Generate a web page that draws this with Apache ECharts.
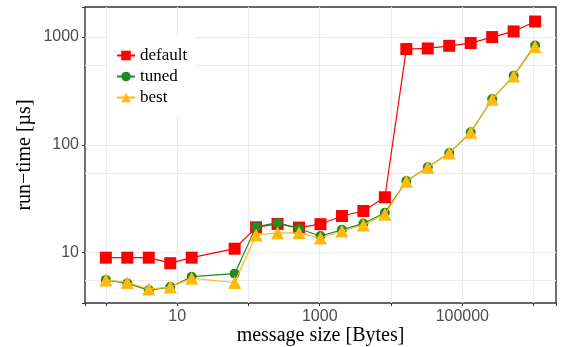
<!DOCTYPE html>
<html>
<head>
<meta charset="utf-8">
<script src="https://cdn.jsdelivr.net/npm/echarts@6/dist/echarts.min.js"></script>
<style>
  html, body { margin: 0; padding: 0; background: #fff; }
  #chart { width: 566px; height: 347px; }
</style>
</head>
<body>
<div id="chart"></div>
<script>
// message sizes (bytes), 32 is missing in the measurement
const sizes = [1, 2, 4, 8, 16, 64, 128, 256, 512, 1024, 2048, 4096, 8192,
  16384, 32768, 65536, 131072, 262144, 524288, 1048576]

// run-time in microseconds
const defaultTimes = [9.0, 9.0, 9.0, 8.0, 9.0, 10.9, 17.2, 18.5, 17.1, 18.4, 21.9, 24.4, 32.7,
  774, 784, 830, 880, 1000, 1128, 1395]
const tunedTimes = [5.6, 5.2, 4.5, 4.8, 6.0, 6.4, 17.4, 19.0, 16.7, 14.3, 16.3, 18.7, 23.5,
  46.3, 62, 84, 131, 266, 437, 836]
const bestTimes = [5.6, 5.3, 4.6, 4.8, 5.8, 5.3, 14.6, 15.3, 15.3, 13.7, 15.9, 18.1, 22.7,
  46, 62, 84, 131, 265, 435, 818]

const seriesNames = ['default', 'tuned', 'best']

const pairs = (ys) => sizes.map((s, i) => [s, ys[i]])

const isPow = (v) => {
  const l = Math.log10(v)
  return Math.abs(l - Math.round(l)) < 1e-6 ? Math.round(l) : null
}

const chart = echarts.init(document.getElementById('chart'))

const tickLabel = {
  color: '#4d4d4d',
  fontSize: 16,
  fontFamily: 'Liberation Sans'
}
const titleFont = {
  color: '#000',
  fontSize: 20,
  fontFamily: 'Liberation Serif'
}
const gridLine = {
  show: true, showMinLine: false, showMaxLine: false,
  lineStyle: { color: '#ebebeb', width: 1.2 }
}

const option = {
  animation: false,
  backgroundColor: '#fff',
  grid: {
    left: 85, right: 10, top: 7, bottom: 44,
    outerBoundsMode: 'none',
    containLabel: false,
    show: true, borderColor: '#333', borderWidth: 1.4, backgroundColor: 'transparent'
  },
  legend: {
    data: seriesNames,
    orient: 'vertical',
    left: 107, top: 35,
    padding: [12, 8, 9, 9],
    itemGap: 4,
    itemWidth: 18,
    itemHeight: 12,
    backgroundColor: '#fff',
    textStyle: { fontSize: 17, fontFamily: 'Liberation Serif', color: '#000' }
  },
  xAxis: {
    type: 'log',
    logBase: 10,
    min: 0.51,
    max: 2.06e6,
    name: 'message size [Bytes]',
    nameLocation: 'middle',
    nameGap: 23,
    nameMoveOverlap: false,
    nameTextStyle: titleFont,
    axisLine: { show: false },
    axisTick: { show: true, length: 3, lineStyle: { color: '#333' } },
    axisLabel: Object.assign({
      margin: 6,
      formatter: (v) => {
        const p = isPow(v)
        return p !== null && p % 2 === 1 ? String(Math.pow(10, p)) : ''
      }
    }, tickLabel),
    splitLine: gridLine
  },
  yAxis: {
    type: 'log',
    logBase: 10,
    min: 3.42,
    max: 1900,
    name: 'run\u2212time [\u00b5s]',
    nameLocation: 'middle',
    nameGap: 50,
    nameMoveOverlap: false,
    nameTextStyle: titleFont,
    axisLine: { show: false },
    axisTick: { show: true, length: 3, lineStyle: { color: '#333' } },
    axisLabel: Object.assign({
      margin: 6,
      formatter: (v) => {
        const p = isPow(v)
        return p !== null ? String(Math.pow(10, p)) : ''
      }
    }, tickLabel),
    splitLine: gridLine,
    minorTick: { show: false, splitNumber: 2 },
    minorSplitLine: { show: true, lineStyle: { color: '#ebebeb', width: 1 } }
  },
  series: [
    {
      name: 'default', type: 'line', data: pairs(defaultTimes),
      symbol: 'rect', symbolSize: 12,
      itemStyle: { color: '#ff0000' },
      lineStyle: { color: '#ff0000', width: 1.2 },
      z: 2
    },
    {
      name: 'tuned', type: 'line', data: pairs(tunedTimes),
      symbol: 'circle', symbolSize: 10,
      itemStyle: { color: '#228b22' },
      lineStyle: { color: '#228b22', width: 1.2 },
      z: 3
    },
    {
      name: 'best', type: 'line', data: pairs(bestTimes),
      symbol: 'triangle', symbolSize: 13,
      itemStyle: { color: '#ffb90f' },
      lineStyle: { color: '#ffb90f', width: 1.2 },
      z: 4
    }
  ]
}

chart.setOption(option)
</script>
</body>
</html>
